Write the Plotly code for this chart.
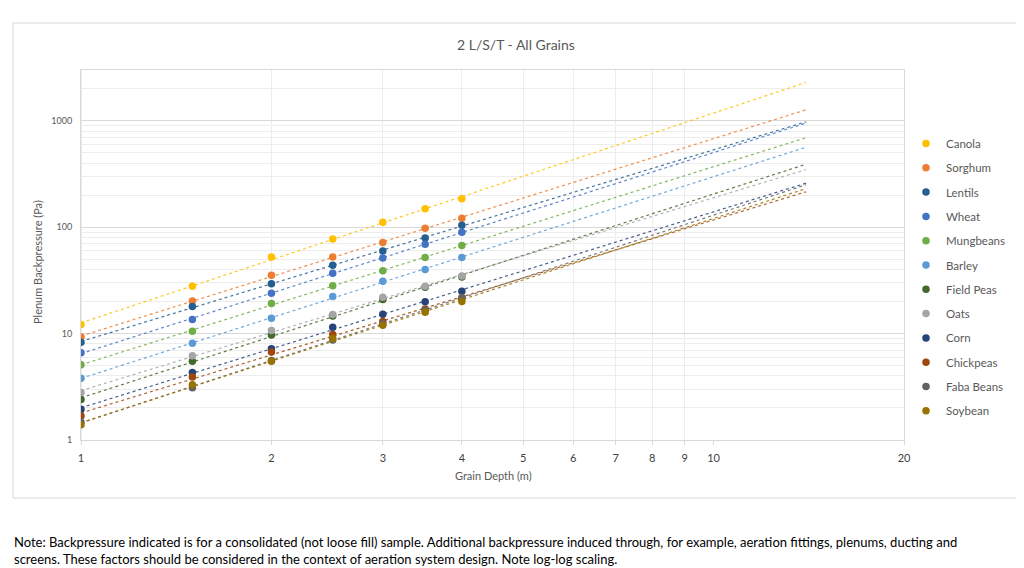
import numpy as np
import plotly.graph_objects as go

# grain depth (m) where measurements exist
depth = [1, 1.5, 2, 2.5, 3, 3.5, 4]

# backpressure (Pa) per grain
canola = [12.2, 27.9, 52.5, 77.6, 111.5, 149, 185]
sorghum = [9.3, 20.2, 35.4, 52.5, 71.7, 97.8, 121.6]
lentils = [8.3, 18.0, 29.4, 43.8, 59.8, 79.3, 104.5]
wheat = [6.6, 13.6, 23.9, 37.0, 51.4, 69.2, 89.7]
mungbeans = [5.1, 10.5, 19.2, 28.2, 39.0, 52.0, 67.2]
barley = [3.8, 8.1, 13.9, 22.3, 31.0, 40.0, 52.0]
field_peas = [2.4, 5.5, 9.7, 14.6, 20.9, 27.2, 34.0]
oats = [2.8, 6.2, 10.7, 15.1, 22.0, 27.9, 34.7]
corn = [1.95, 4.3, 7.2, 11.5, 15.2, 19.9, 25.0]
chickpeas = [1.68, 3.9, 6.7, 9.8, 13.0, 17.0, 21.4]
faba_beans = [1.47, 3.1, 5.6, 8.7, 12.4, 16.6, 21.8]
soybean = [1.39, 3.3, 5.5, 9.0, 12.0, 15.9, 20.0]

grains = ["Canola", "Sorghum", "Lentils", "Wheat", "Mungbeans", "Barley",
          "Field Peas", "Oats", "Corn", "Chickpeas", "Faba Beans", "Soybean"]
values = [canola, sorghum, lentils, wheat, mungbeans, barley,
          field_peas, oats, corn, chickpeas, faba_beans, soybean]
colors = ["#FFC000", "#ED7D31", "#255E91", "#4472C4", "#70AD47", "#5B9BD5",
          "#43682B", "#A5A5A5", "#264478", "#9E480E", "#636363", "#997300"]

# power trendline, forecast forward 10 units (like excel)
trend_x = [1, 14]

x_ticks = [1, 2, 3, 4, 5, 6, 7, 8, 9, 10, 20]
y_ticks = [1, 10, 100, 1000]

# the page body has an 8px margin, so work in screenshot pixels minus 8
OFF = 8
W, H = 1024 - OFF, 568 - OFF
L, R, T, B = 81 - OFF, 904 - OFF, 70 - OFF, 440 - OFF


def px(x):
    return (x - OFF - L) / (R - L)


def py(y):
    return (B - (y - OFF)) / (B - T)


fig = go.Figure()

# trendlines first so the dots sit on top
for name, vals, c in zip(grains, values, colors):
    k, b = np.polyfit(np.log10(depth), np.log10(vals), 1)
    ty = [10 ** b * t ** k for t in trend_x]
    fig.add_trace(go.Scatter(x=trend_x, y=ty, mode="lines", opacity=0.85,
                             line=dict(color=c, width=1.2, dash="dot"),
                             showlegend=False, hoverinfo="skip"))

for name, vals, c in zip(grains, values, colors):
    fig.add_trace(go.Scatter(x=depth, y=vals, mode="markers", name=name,
                             legendgroup=name,
                             marker=dict(color=c, size=7.5)))

minor_y = [m * 10 ** d for d in range(4) for m in range(2, 10) if m * 10 ** d <= 3000]

fig.update_layout(
    width=W, height=H,
    margin=dict(l=L, r=W - R, t=T, b=H - B, autoexpand=False),
    paper_bgcolor="white", plot_bgcolor="white",
    font=dict(family="Lato, Open Sans, sans-serif", color="#595959"),
    showlegend=True,
    # legend box starts ~20px left of its dots
    legend=dict(x=px(906), y=py(129), xanchor="left", yanchor="top",
                font=dict(size=11.5, color="#595959"),
                tracegroupgap=5.3, itemsizing="trace", itemwidth=30,
                bgcolor="rgba(0,0,0,0)"),
    xaxis=dict(type="log", range=[0, np.log10(20)],
               tickvals=x_ticks, ticktext=[str(v) for v in x_ticks],
               tickfont=dict(size=11, color="#404040"),
               ticks="outside", ticklen=4, tickcolor="#D9D9D9",
               ticklabelstandoff=4,
               showgrid=False, zeroline=False,
               showline=True, linecolor="#D9D9D9", linewidth=1, mirror=True,
               minor=dict(tickvals=[2, 3, 4, 5, 6, 7, 8, 9], showgrid=True,
                          gridcolor="#EDEDED", gridwidth=1, ticks="")),
    yaxis=dict(type="log", range=[0, np.log10(3000)],
               tickvals=y_ticks, ticktext=[str(v) for v in y_ticks],
               tickfont=dict(size=9, color="#595959"),
               ticks="", ticklabelstandoff=6,
               showgrid=True, gridcolor="#D9D9D9", gridwidth=1, zeroline=False,
               showline=True, linecolor="#D9D9D9", linewidth=1, mirror=True,
               minor=dict(tickvals=minor_y, showgrid=True,
                          gridcolor="#EDEDED", gridwidth=1, ticks="")),
)

# darker vertical gridline at 10 m
fig.add_shape(type="line", xref="x", yref="paper", x0=1, x1=1, y0=0, y1=1,
              line=dict(color="#D9D9D9", width=1), layer="below")

# chart frame
fig.add_shape(type="rect", xref="paper", yref="paper",
              x0=px(13), x1=px(1019), y0=py(23), y1=py(498),
              line=dict(color="#D9D9D9", width=1), layer="below")

fig.add_annotation(text="2 L/S/T - All Grains", xref="paper", yref="paper",
                   x=px(516), y=py(44), xanchor="center", yanchor="middle",
                   showarrow=False, font=dict(size=14, color="#595959"))
fig.add_annotation(text="Plenum Backpressure (Pa)", xref="paper", yref="paper",
                   x=px(37), y=py(262), xanchor="center", yanchor="middle",
                   showarrow=False, textangle=-90,
                   font=dict(size=11, color="#595959"))
fig.add_annotation(text="Grain Depth (m)", xref="paper", yref="paper",
                   x=px(493), y=py(476), xanchor="center", yanchor="middle",
                   showarrow=False, font=dict(size=11, color="#595959"))

note = ("Note: Backpressure indicated is for a consolidated (not loose fill) sample. "
        "Additional backpressure induced through, for example, aeration fittings, plenums, ducting and<br>"
        "screens. These factors should be considered in the context of aeration system design. "
        "Note log-log scaling.")
fig.add_annotation(text=note, xref="paper", yref="paper",
                   x=px(12), y=py(532), xanchor="left", yanchor="top",
                   align="left", showarrow=False,
                   font=dict(size=13, color="#000000"))

fig.write_html("out.html")
